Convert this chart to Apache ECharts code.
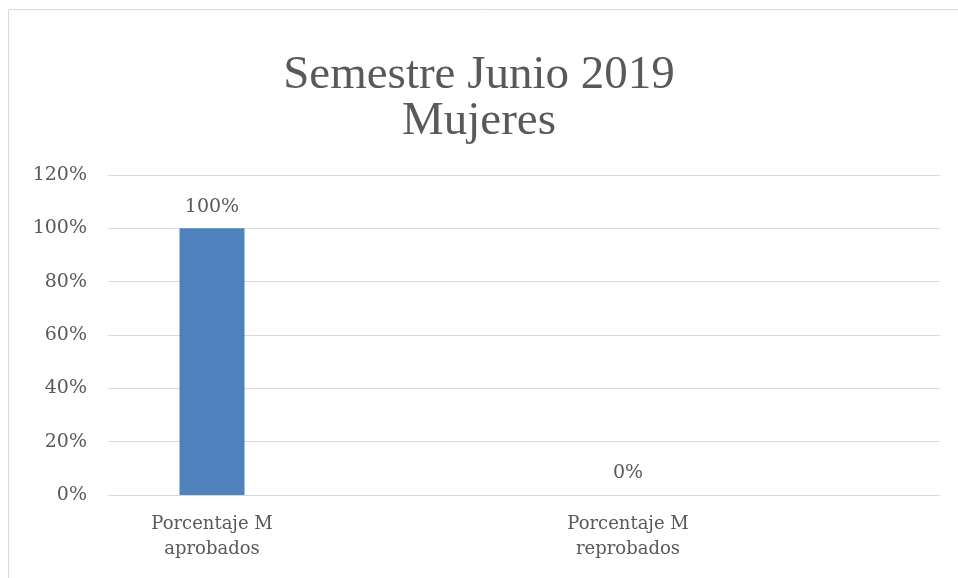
<!DOCTYPE html>
<html>
<head>
<meta charset="utf-8">
<script src="https://cdn.jsdelivr.net/npm/echarts@6/dist/echarts.min.js"></script>
<style>
  html, body { margin: 0; padding: 0; background: #fff; }
  #chart { width: 958px; height: 578px; }
</style>
</head>
<body>
<div id="chart"></div>
<script>
// chart data
var categories = ['Porcentaje M\naprobados', 'Porcentaje M\nreprobados'];
var values = [1, 0];
var yTicks = [0, 0.2, 0.4, 0.6, 0.8, 1, 1.2];

// each category takes two slots, the second left empty
var axisData = [];
var seriesData = [];
categories.forEach(function (c, i) {
    axisData.push(c, '');
    seriesData.push(values[i], null);
});

var textColor = '#595959';
var font = '"DejaVu Serif", serif';

var myChart = echarts.init(document.getElementById('chart'));
var option = {
    animation: false,
    title: {
        text: 'Semestre Junio 2019\nMujeres',
        left: 'center',
        top: 48,
        textStyle: {
            fontFamily: '"Liberation Serif", serif',
            fontWeight: 'normal',
            fontSize: 47,
            lineHeight: 46,
            color: textColor
        }
    },
    graphic: [{
        type: 'rect',
        shape: { x: 8.5, y: 9.5, width: 980, height: 600 },
        style: { fill: 'none', stroke: '#D9D9D9', lineWidth: 1 }
    }],
    grid: {
        left: 108,
        right: 18,
        top: 175,
        bottom: 83,
        containLabel: false
    },
    xAxis: {
        type: 'category',
        data: axisData,
        axisLine: { show: true, lineStyle: { color: '#D9D9D9', width: 1 } },
        axisTick: { show: false },
        axisLabel: {
            interval: 0,
            margin: 17,
            color: textColor,
            fontFamily: font,
            fontSize: 18,
            lineHeight: 25
        }
    },
    yAxis: {
        type: 'value',
        min: 0,
        max: 1.2,
        interval: 0.2,
        axisLine: { show: false },
        axisTick: { show: false },
        splitLine: { lineStyle: { color: '#D9D9D9', width: 1 } },
        axisLabel: {
            margin: 21,
            color: textColor,
            fontFamily: font,
            fontSize: 19,
            formatter: function (v) {
                var t = yTicks.find(function (k) { return Math.abs(k - v) < 1e-6; });
                return Math.round((t !== undefined ? t : v) * 100) + '%';
            }
        }
    },
    series: [{
        type: 'bar',
        data: seriesData,
        barWidth: 65,
        itemStyle: { color: '#4F81BD' },
        label: {
            show: true,
            position: 'top',
            distance: 12,
            color: textColor,
            fontFamily: font,
            fontSize: 19,
            formatter: function (p) { return Math.round(p.value * 100) + '%'; }
        }
    }]
};
myChart.setOption(option);
</script>
</body>
</html>
